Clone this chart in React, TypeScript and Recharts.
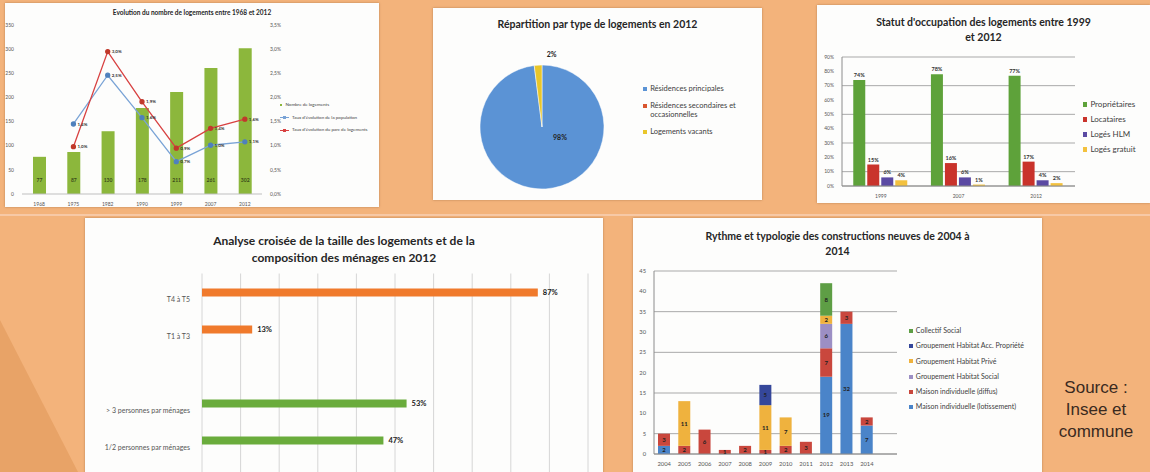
import React from 'react';
import {
  ComposedChart, BarChart, PieChart, Pie, Cell, Bar, Line, XAxis, YAxis,
  CartesianGrid, Legend, LabelList,
} from 'recharts';

const FONT = 'Lato, "Open Sans", sans-serif';
const BG = '#f3b37b';

// Evolution du nombre de logements
const censusYears = ['1968', '1975', '1982', '1990', '1999', '2007', '2012'];
const nbLogements = [77, 87, 130, 178, 211, 261, 302];
const tauxPopulation = [null, 1.45, 2.46, 1.58, 0.67, 1.01, 1.08];
const tauxParc = [null, 0.98, 2.95, 1.91, 0.95, 1.36, 1.55];

// Répartition par type de logements
const typesLogement = ['Résidences principales', 'Résidences secondaires et occasionnelles', 'Logements vacants'];
const partsLogement = [98, 0, 2];
const typesColors = ['#5b93d5', '#d9562f', '#e9c62a'];

// Statut d'occupation
const occupationYears = ['1999', '2007', '2012'];
const proprietaires = [74, 78, 77];
const locataires = [15, 16, 17];
const logesHlm = [6, 6, 4];
const logesGratuit = [4, 1, 2];

// Analyse croisée
const croiseeCats = ['T4 à T5', 'T1 à T3', '', '> 3 personnes par ménages', '1/2 personnes par ménages'];
const croiseeParts = [87, 13, null, 53, 47];
const croiseeColors = ['#f07a2c', '#f07a2c', '#f07a2c', '#6aac3c', '#6aac3c'];

// Constructions neuves
const constructionYears = ['2004', '2005', '2006', '2007', '2008', '2009', '2010', '2011', '2012', '2013', '2014'];
const lotissement = [2, 0, 0, 0, 0, 0, 0, 0, 19, 32, 7];
const diffus = [3, 2, 6, 1, 2, 1, 2, 3, 7, 3, 2];
const grpSocial = [0, 0, 0, 0, 0, 0, 0, 0, 6, 0, 0];
const grpPrive = [0, 11, 0, 0, 0, 11, 7, 0, 2, 0, 0];
const grpAccession = [0, 0, 0, 0, 0, 5, 0, 0, 0, 0, 0];
const collectifSocial = [0, 0, 0, 0, 0, 0, 0, 0, 8, 0, 0];
const constructionSeries = [
  ['lotissement', 'Maison individuelle (lotissement)', '#4a84c9'],
  ['diffus', 'Maison individuelle (diffus)', '#c9473d'],
  ['grpSocial', 'Groupement Habitat Social', '#9c8fc4'],
  ['grpPrive', 'Groupement Habitat Privé', '#efb23e'],
  ['grpAccession', 'Groupement Habitat Acc. Propriété', '#35479a'],
  ['collectif', 'Collectif Social', '#5e9e45'],
];

const evolutionData = censusYears.map((a, i) => ({
  annee: a, logements: nbLogements[i], population: tauxPopulation[i], parc: tauxParc[i],
}));
const typesData = typesLogement.map((n, i) => ({ name: n, value: partsLogement[i] }));
const occupationData = occupationYears.map((a, i) => ({
  annee: a, prop: proprietaires[i], loc: locataires[i], hlm: logesHlm[i], gratuit: logesGratuit[i],
}));
const croiseeData = croiseeCats.map((c, i) => ({ categorie: c, part: croiseeParts[i] }));
const constructionData = constructionYears.map((a, i) => ({
  annee: a, lotissement: lotissement[i], diffus: diffus[i], grpSocial: grpSocial[i],
  grpPrive: grpPrive[i], grpAccession: grpAccession[i], collectif: collectifSocial[i],
}));

const pct = (v: any) => (v == null ? '' : `${String(v).replace('.', ',')}%`);
const pct1 = (v: any) => (v == null ? '' : `${Number(v).toFixed(1).replace('.', ',')}%`);
const nz = (v: any) => (v ? String(v) : '');

const panel = (left: number, top: number, width: number, height: number): React.CSSProperties => ({
  position: 'absolute', left, top, width, height, background: '#fdfdfc',
  boxShadow: '0 0 2px rgba(120,80,40,0.5)', overflow: 'hidden',
});

function Title({ top, size, lines }: { top: number; size: number; lines: string[] }) {
  return (
    <div style={{
      position: 'absolute', left: 0, right: 0, top, textAlign: 'center', fontFamily: FONT,
      fontWeight: 700, fontSize: size, lineHeight: `${size * 1.45}px`, color: '#262626', zIndex: 2,
    }}>
      {lines.map((l) => <div key={l}>{l}</div>)}
    </div>
  );
}

// legend with a fixed item order (recharts sorts the payload by name otherwise)
const legendList = (fontSize: number, gap: number, order: string[], opts: { colors?: Record<string, string>; lineFor?: string[] } = {}) =>
  (props: any) => {
    const items = order
      .map((n) => (props.payload ?? []).find((p: any) => p.value === n))
      .filter(Boolean);
    return (
      <div style={{ fontFamily: FONT, fontSize, color: '#404040', lineHeight: `${fontSize + 2}px` }}>
        {items.map((it: any) => {
          const c = opts.colors?.[it.value] ?? it.color;
          const isLine = opts.lineFor?.includes(it.value);
          return (
            <div key={it.value} style={{ display: 'flex', alignItems: 'flex-start', marginBottom: gap }}>
              {isLine ? (
                <span style={{ position: 'relative', width: 9, height: fontSize + 2, marginRight: 3, flex: 'none' }}>
                  <span style={{ position: 'absolute', left: 0, right: 0, top: (fontSize + 2) / 2 - 0.5, height: 1, background: c }} />
                  <span style={{ position: 'absolute', left: 3, top: (fontSize + 2) / 2 - 1.5, width: 3, height: 3, background: c }} />
                </span>
              ) : (
                <span style={{ width: fontSize * 0.55, height: fontSize * 0.55, background: c, marginTop: fontSize * 0.4, marginRight: 3, flex: 'none' }} />
              )}
              <span>{it.value}</span>
            </div>
          );
        })}
      </div>
    );
  };

const renderPieLabel = (p: any) => {
  if (!p.value) return null;
  const style = { fontFamily: FONT, fontWeight: 700, fontSize: 7, fill: '#222' };
  if (p.percent > 0.5) {
    return <text x={p.cx + 18} y={p.cy + 13} textAnchor="middle" style={style}>{`${p.value}%`}</text>;
  }
  const rad = Math.PI / 180;
  const r = p.outerRadius + 8;
  return (
    <text x={p.cx + r * Math.cos(-p.midAngle * rad) + 14} y={p.cy + r * Math.sin(-p.midAngle * rad)} textAnchor="middle" style={style}>
      {`${p.value}%`}
    </text>
  );
};

const CategoryTick = (p: any) => (
  <text x={p.x - 4} y={p.y + 10} textAnchor="end" style={{ fontFamily: FONT, fontSize: 7, fill: '#555' }}>
    {p.payload.value}
  </text>
);

const tick5 = { fontSize: 5, fill: '#555', fontFamily: FONT };
const tick6 = { fontSize: 5.8, fill: '#555', fontFamily: FONT };

export default function App() {
  return (
    <div style={{ position: 'absolute', left: 0, top: 0, width: 1150, height: 472, overflow: 'hidden', background: BG }}>
      <div style={{ position: 'absolute', inset: 0, background: '#e8a367', clipPath: 'polygon(0 320px, 78px 472px, 0 472px)' }} />
      <div style={{ position: 'absolute', left: 0, top: 214, width: 1150, height: 2, background: '#f7c9a6' }} />

      {/* Evolution du nombre de logements */}
      <div style={panel(5, 3, 374, 204)}>
        <Title top={5} size={6.5} lines={['Evolution du nombre de logements entre 1968 et 2012']} />
        <ComposedChart width={374} height={204} data={evolutionData} margin={{ top: 22, right: 95, bottom: 1, left: 3 }}>
          <XAxis dataKey="annee" height={12} tick={tick5} tickLine={false} axisLine={{ stroke: '#bfbfbf' }} />
          <YAxis yAxisId="l" width={14} domain={[0, 350]} ticks={[0, 50, 100, 150, 200, 250, 300, 350]}
            tick={tick5} tickLine={false} axisLine={false} />
          <YAxis yAxisId="r" orientation="right" width={22} domain={[0, 3.5]} ticks={[0, 0.5, 1, 1.5, 2, 2.5, 3, 3.5]}
            tickFormatter={pct1} tick={tick5} tickLine={false} axisLine={false} />
          <Bar yAxisId="l" dataKey="logements" name="Nombre de logements" fill="#8cb73c" barSize={13} isAnimationActive={false}>
            <LabelList dataKey="logements" position="insideBottom" offset={12} style={{ fontSize: 5, fontWeight: 700, fill: '#3a4a1a', fontFamily: FONT }} />
          </Bar>
          <Line yAxisId="r" dataKey="population" name="Taux d'évolution de la population" stroke="#79a3d6" strokeWidth={1.3}
            dot={{ r: 2, fill: '#4f81bd', stroke: '#4f81bd' }} isAnimationActive={false}>
            <LabelList dataKey="population" position="right" offset={4} formatter={pct1} style={{ fontSize: 4.5, fontWeight: 700, fill: '#333', fontFamily: FONT }} />
          </Line>
          <Line yAxisId="r" dataKey="parc" name="Taux d'évolution du parc de logements" stroke="#d84141" strokeWidth={1.3}
            dot={{ r: 2, fill: '#c0392b', stroke: '#c0392b' }} isAnimationActive={false}>
            <LabelList dataKey="parc" position="right" offset={4} formatter={pct1} style={{ fontSize: 4.5, fontWeight: 700, fill: '#333', fontFamily: FONT }} />
          </Line>
          <Legend layout="horizontal" verticalAlign="middle" align="center" wrapperStyle={{ left: 275, top: 99, width: 96 }}
            content={legendList(4.5, 6,
              ['Nombre de logements', "Taux d'évolution de la population", "Taux d'évolution du parc de logements"],
              { lineFor: ["Taux d'évolution de la population", "Taux d'évolution du parc de logements"] })} />
        </ComposedChart>
      </div>

      {/* Répartition par type */}
      <div style={panel(433, 8, 329, 192)}>
        <Title top={9} size={10.5} lines={['Répartition par type de logements en 2012']} />
        <PieChart width={329} height={192} margin={{ top: 0, right: 0, bottom: 0, left: 0 }}>
          <Pie data={typesData} dataKey="value" nameKey="name" cx={109} cy={119} outerRadius={62} startAngle={90} endAngle={-270}
            stroke="#ffffff" strokeWidth={0.5} label={renderPieLabel} labelLine={false} isAnimationActive={false}>
            {typesData.map((d, i) => <Cell key={d.name} fill={typesColors[i]} />)}
          </Pie>
          <Legend layout="horizontal" verticalAlign="middle" align="center" wrapperStyle={{ left: 210, top: 76, width: 115 }}
            content={legendList(7.5, 7, typesLogement, { colors: Object.fromEntries(typesLogement.map((n, i) => [n, typesColors[i]])) })} />
        </PieChart>
      </div>

      {/* Statut d'occupation */}
      <div style={panel(817, 5, 333, 198)}>
        <Title top={10} size={10.5} lines={["Statut d'occupation des logements entre 1999", 'et 2012']} />
        <BarChart width={333} height={198} data={occupationData} margin={{ top: 52, right: 75, bottom: 5, left: 0 }}
          barCategoryGap="14.5%" barGap={2}>
          <CartesianGrid vertical={false} stroke="#a9a9a9" />
          <XAxis dataKey="annee" height={12} tick={tick5} tickLine={false} axisLine={{ stroke: '#8c8c8c' }} />
          <YAxis width={25} domain={[0, 90]} ticks={[0, 10, 20, 30, 40, 50, 60, 70, 80, 90]} tickFormatter={pct}
            tick={tick5} tickLine={false} axisLine={{ stroke: '#8c8c8c' }} />
          <Bar dataKey="prop" name="Propriétaires" fill="#5ea23a" isAnimationActive={false}>
            <LabelList dataKey="prop" position="top" offset={3} formatter={pct} style={{ fontSize: 5.5, fontWeight: 700, fill: '#333', fontFamily: FONT }} />
          </Bar>
          <Bar dataKey="loc" name="Locataires" fill="#c9332b" isAnimationActive={false}>
            <LabelList dataKey="loc" position="top" offset={3} formatter={pct} style={{ fontSize: 5.5, fontWeight: 700, fill: '#333', fontFamily: FONT }} />
          </Bar>
          <Bar dataKey="hlm" name="Logés HLM" fill="#5b4aa3" isAnimationActive={false}>
            <LabelList dataKey="hlm" position="top" offset={3} formatter={pct} style={{ fontSize: 5.5, fontWeight: 700, fill: '#333', fontFamily: FONT }} />
          </Bar>
          <Bar dataKey="gratuit" name="Logés gratuit" fill="#f3c13e" isAnimationActive={false}>
            <LabelList dataKey="gratuit" position="top" offset={3} formatter={pct} style={{ fontSize: 5.5, fontWeight: 700, fill: '#333', fontFamily: FONT }} />
          </Bar>
          <Legend layout="horizontal" verticalAlign="middle" align="center" wrapperStyle={{ left: 266, top: 94, width: 67 }}
            content={legendList(8, 5, ['Propriétaires', 'Locataires', 'Logés HLM', 'Logés gratuit'])} />
        </BarChart>
      </div>

      {/* Analyse croisée */}
      <div style={panel(85, 218, 518, 260)}>
        <Title top={14} size={12} lines={['Analyse croisée de la taille des logements et de la', 'composition des ménages en 2012']} />
        <BarChart layout="vertical" width={518} height={254} data={croiseeData} margin={{ top: 55.5, right: 15, bottom: 0, left: 0 }}>
          <CartesianGrid horizontal={false} stroke="#d6d6d6" />
          <XAxis type="number" domain={[0, 100]} ticks={[0, 10, 20, 30, 40, 50, 60, 70, 80, 90, 100]} hide />
          <YAxis type="category" dataKey="categorie" width={117} padding={{ top: 0, bottom: 13.5 }} interval={0}
            tick={<CategoryTick />} tickLine={false} axisLine={false} />
          <Bar dataKey="part" barSize={8} isAnimationActive={false}>
            {croiseeData.map((d, i) => <Cell key={i} fill={croiseeColors[i]} />)}
            <LabelList dataKey="part" position="right" offset={5} formatter={pct}
              style={{ fontSize: 7.5, fontWeight: 700, fill: '#222', fontFamily: FONT }} />
          </Bar>
        </BarChart>
      </div>

      {/* Constructions neuves */}
      <div style={panel(633, 218, 409, 260)}>
        <Title top={11} size={10.5} lines={['Rythme et typologie des constructions neuves de 2004 à', '2014']} />
        <BarChart width={409} height={254} data={constructionData} margin={{ top: 53, right: 145, bottom: 4, left: 0 }} barSize={12}>
          <CartesianGrid vertical={false} stroke="#a9a9a9" />
          <XAxis dataKey="annee" height={14} padding={{ left: 0, right: 20 }} interval={0} tick={tick6}
            tickLine={false} axisLine={{ stroke: '#8c8c8c' }} />
          <YAxis width={21} domain={[0, 45]} ticks={[0, 5, 10, 15, 20, 25, 30, 35, 40, 45]} tick={tick6}
            tickLine={false} axisLine={{ stroke: '#8c8c8c' }} />
          {constructionSeries.map(([k, n, c]) => (
            <Bar key={k} dataKey={k} name={n} stackId="c" fill={c} isAnimationActive={false}>
              <LabelList dataKey={k} position="center" formatter={nz} style={{ fontSize: 6, fontWeight: 700, fill: '#222', fontFamily: FONT }} />
            </Bar>
          ))}
          <Legend layout="horizontal" verticalAlign="middle" align="center" wrapperStyle={{ left: 276, top: 108, width: 133 }}
            content={legendList(7, 6.3, constructionSeries.map((s) => s[1]).reverse())} />
        </BarChart>
      </div>

      <div style={{
        position: 'absolute', left: 1046, top: 377, width: 100, textAlign: 'center',
        fontFamily: '"Liberation Sans", Arial, sans-serif', fontSize: 17, lineHeight: '22px', color: '#3a2a1f',
      }}>
        <div>Source :</div>
        <div>Insee et</div>
        <div>commune</div>
      </div>
    </div>
  );
}
